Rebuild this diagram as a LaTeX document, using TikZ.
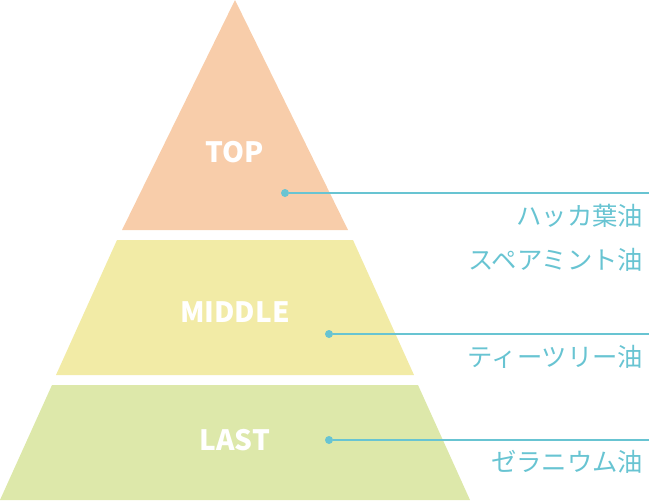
\documentclass[tikz,border=0pt]{standalone}
\usepackage{fontspec}
\setmainfont{Noto Sans CJK JP}
\definecolor{peach}{RGB}{248,205,170}
\definecolor{lemon}{RGB}{242,235,166}
\definecolor{lime}{RGB}{221,232,170}
\definecolor{teal}{RGB}{104,196,210}
\tikzset{
  tier/.style={draw=none},
  level/.style={text=white, font=\bfseries\fontsize{21}{21}\selectfont},
  oil/.style={text=teal, anchor=east, font=\fontsize{19}{19}\selectfont},
  dot/.style={circle, fill=teal, inner sep=0pt, minimum size=6pt}
}
\begin{document}
\begin{tikzpicture}[x=0.75pt,y=-0.75pt]
  \useasboundingbox (0,0) rectangle (649,500);
  % pyramid bands
  \fill[peach] (235,0) -- (348,230) -- (122,230) -- cycle;
  \fill[lemon] (117,240) -- (353,240) -- (414,375) -- (56,375) -- cycle;
  \fill[lime] (52,385) -- (418,385) -- (470,500) -- (0,500) -- cycle;

  \node[level] (top) at (235,152) {TOP};
  \node[level] (middle) at (235,312) {MIDDLE};
  \node[level] (last) at (235,440) {LAST};

  \node[dot] (d1) at (285,193) {};
  \node[dot] (d2) at (329,334) {};
  \node[dot] (d3) at (329,440) {};
  \coordinate (e1) at (649,193);
  \coordinate (e2) at (649,334);
  \coordinate (e3) at (649,440);
  \draw[teal, line width=1pt] (d1) -- (e1);
  \draw[teal, line width=1pt] (d2) -- (e2);
  \draw[teal, line width=1pt] (d3) -- (e3);

  \node[oil] (o1) at (648,216) {ハッカ葉油};
  \node[oil] (o2) at (648,260) {スペアミント油};
  \node[oil] (o3) at (648,357) {ティーツリー油};
  \node[oil] (o4) at (648,462) {ゼラニウム油};
\end{tikzpicture}
\end{document}
